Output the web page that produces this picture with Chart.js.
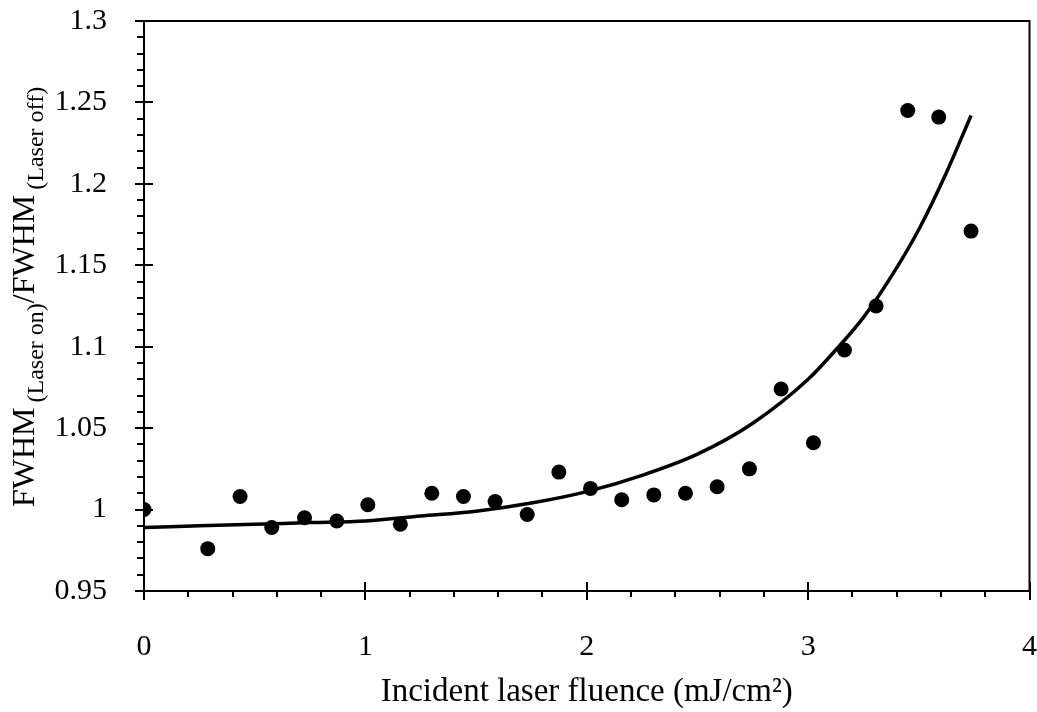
<!DOCTYPE html>
<html>
<head>
<meta charset="utf-8">
<script src="https://cdn.jsdelivr.net/npm/chart.js@4.4.1/dist/chart.umd.min.js"></script>
<style>
  html, body { margin: 0; padding: 0; background: #fff; }
  #wrap { width: 1037px; height: 712px; }
</style>
</head>
<body>
<div id="wrap"><canvas id="fwhm"></canvas></div>
<script>
// measured points
var fluence = [0, 0.288, 0.434, 0.577, 0.725, 0.871, 1.011, 1.158, 1.300, 1.443, 1.586, 1.731, 1.874,
               2.017, 2.158, 2.303, 2.446, 2.589, 2.735, 2.878, 3.024, 3.164, 3.307, 3.450, 3.590, 3.736];
var fwhmRatio = [1.000, 0.976, 1.008, 0.989, 0.995, 0.993, 1.003, 0.991, 1.010, 1.008, 1.005, 0.997, 1.023,
                 1.013, 1.006, 1.009, 1.010, 1.014, 1.025, 1.074, 1.041, 1.098, 1.125, 1.245, 1.241, 1.171];

// fitted curve
var fitX = [0, 0.25, 0.5, 0.75, 1.0, 1.25, 1.5, 1.75, 2.0, 2.25, 2.5, 2.75, 3.0, 3.125, 3.25, 3.375, 3.5, 3.625, 3.736];
var fitY = [0.989, 0.990, 0.991, 0.992, 0.993, 0.996, 0.999, 1.004, 1.011, 1.021, 1.034, 1.053, 1.080,
            1.098, 1.118, 1.143, 1.172, 1.207, 1.242];

var xTickValues = [0, 1, 2, 3, 4];
var xTickLabels = ['0', '1', '2', '3', '4'];
var yTickValues = [0.95, 1.0, 1.05, 1.1, 1.15, 1.2, 1.25, 1.3];
var yTickLabels = ['0.95', '1', '1.05', '1.1', '1.15', '1.2', '1.25', '1.3'];

var serif = "'Liberation Serif', 'Times New Roman', serif";

// box, major and minor ticks, y title with subscripts
var framePlugin = {
    id: 'frame',
    afterDraw: function(chart) {
        var ctx = chart.ctx;
        var a = chart.chartArea;
        var xs = chart.scales.x, ys = chart.scales.y;
        ctx.save();
        ctx.strokeStyle = '#000';
        ctx.lineWidth = 2;
        ctx.strokeRect(a.left, a.top, a.right - a.left, a.bottom - a.top);

        ctx.beginPath();
        for (var i = 0; i <= 20; i++) {
            var px = Math.round(xs.getPixelForValue(i * 0.2));
            var major = i % 5 === 0;
            ctx.moveTo(px, a.bottom - (major ? 9 : 0));
            ctx.lineTo(px, a.bottom + (major ? 9 : 6));
        }
        for (var j = 0; j <= 35; j++) {
            var py = Math.round(ys.getPixelForValue(0.95 + j * 0.01));
            var maj = j % 5 === 0;
            ctx.moveTo(a.left - (maj ? 9 : 7), py);
            ctx.lineTo(a.left + (maj ? 9 : 0), py);
        }
        ctx.stroke();

        // y axis title
        ctx.translate(34, 507);
        ctx.rotate(-Math.PI / 2);
        ctx.fillStyle = '#000';
        ctx.textBaseline = 'alphabetic';
        var parts = [
            ['FWHM', 32, 0], [' ', 20, 0], ['(Laser on)', 24, 9],
            ['/FWHM', 32, 0], [' ', 20, 0], ['(Laser off)', 24, 9]
        ];
        var pos = 0;
        parts.forEach(function(p) {
            ctx.font = p[1] + 'px ' + serif;
            ctx.fillText(p[0], pos, p[2]);
            pos += ctx.measureText(p[0]).width;
        });
        ctx.restore();
    }
};

new Chart(document.getElementById('fwhm'), {
    type: 'scatter',
    data: {
        datasets: [
            {
                label: 'fit',
                data: fitX.map(function(x, i) { return { x: x, y: fitY[i] }; }),
                showLine: true,
                borderColor: '#000',
                borderWidth: 3.5,
                pointRadius: 0,
                cubicInterpolationMode: 'monotone',
                fill: false
            },
            {
                label: 'data',
                data: fluence.map(function(x, i) { return { x: x, y: fwhmRatio[i] }; }),
                backgroundColor: '#000',
                borderColor: '#000',
                borderWidth: 0,
                pointRadius: 7.5
            }
        ]
    },
    options: {
        responsive: true,
        maintainAspectRatio: false,
        animation: false,
        layout: { padding: { top: 21, right: 7, left: 0, bottom: 0 } },
        plugins: {
            legend: { display: false },
            tooltip: { enabled: false }
        },
        scales: {
            x: {
                type: 'linear',
                min: 0,
                max: 4,
                afterBuildTicks: function(s) { s.ticks = xTickValues.map(function(v) { return { value: v }; }); },
                afterFit: function(s) {
                    s.height = 121;
                    s.paddingLeft = 0; s.paddingRight = 0;
                },
                grid: { display: false },
                border: { display: false },
                ticks: {
                    color: '#000',
                    font: { family: serif, size: 30 },
                    padding: 30,
                    maxRotation: 0,
                    autoSkip: false,
                    callback: function(v, i) { return xTickLabels[i]; }
                },
                title: {
                    display: true,
                    text: 'Incident laser fluence (mJ/cm²)',
                    color: '#000',
                    font: { family: serif, size: 33 },
                    padding: { top: 0, bottom: 0 }
                }
            },
            y: {
                type: 'linear',
                min: 0.95,
                max: 1.3,
                afterBuildTicks: function(s) { s.ticks = yTickValues.map(function(v) { return { value: v }; }); },
                afterFit: function(s) {
                    s.width = 144;
                    s.paddingTop = 0; s.paddingBottom = 0;
                },
                grid: { display: false },
                border: { display: false },
                ticks: {
                    color: '#000',
                    font: { family: serif, size: 30 },
                    padding: 29,
                    autoSkip: false,
                    callback: function(v, i) { return yTickLabels[i]; }
                }
            }
        }
    },
    plugins: [framePlugin]
});
</script>
</body>
</html>
